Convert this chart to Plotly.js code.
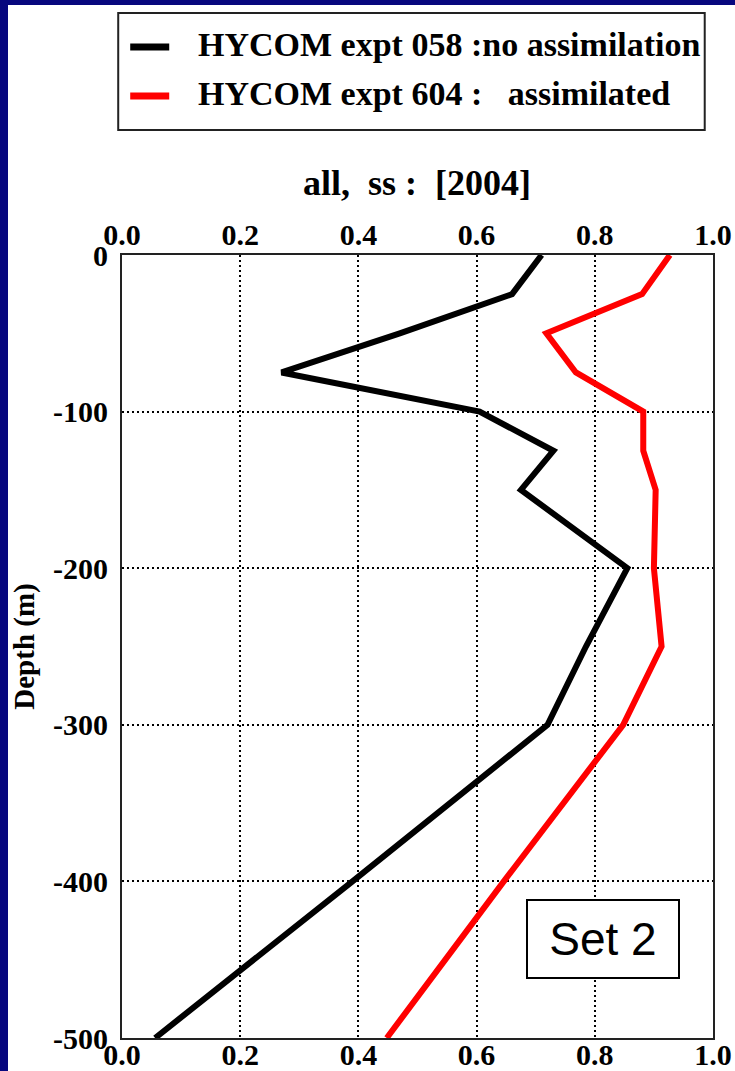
<!DOCTYPE html>
<html>
<head>
<meta charset="utf-8">
<script src="https://cdn.plot.ly/plotly-3.0.1.min.js"></script>
<style>
  html, body { margin: 0; padding: 0; background: #07077e; width: 735px; height: 1071px; overflow: hidden; }
  #chart { position: absolute; left: 8px; top: 5px; width: 727px; height: 1066px; background: #ffffff; }
</style>
</head>
<body>
<div id="chart"></div>
<script>
// ---- data ----
const depth = [0, -25, -50, -75, -100, -125, -150, -200, -250, -300, -400, -500];
const expt058 = [0.71, 0.66, 0.47, 0.27, 0.605, 0.73, 0.675, 0.855, 0.785, 0.72, 0.39, 0.056];
const expt604 = [0.927, 0.88, 0.718, 0.768, 0.882, 0.882, 0.903, 0.90, 0.913, 0.848, 0.646, 0.448];
const seriesNames = ["HYCOM expt 058 :no assimilation", "HYCOM expt 604 :\u00A0\u00A0 assimilated"];
const seriesColors = ["#000000", "#ff0000"];
const xTickVals = [0, 0.2, 0.4, 0.6, 0.8, 1.0];
const yTickVals = [0, -100, -200, -300, -400, -500];
const yTickText = ["0", "-100", "-200", "-300", "-400", "-500"];
const titleText = "all,\u00A0 ss :\u00A0 [2004]";
const yTitle = "Depth (m)";
const boxLabel = "Set 2";

const serif = "Liberation Serif, Times New Roman, serif";
const tickFont = { family: serif, size: 30, color: "#000", weight: "bold" };

const traces = [
  { x: expt058, y: depth, name: seriesNames[0], mode: "lines", line: { color: seriesColors[0], width: 6 }, xaxis: "x", yaxis: "y" },
  { x: expt604, y: depth, name: seriesNames[1], mode: "lines", line: { color: seriesColors[1], width: 6 }, xaxis: "x", yaxis: "y" },
  // invisible trace that binds the top x-axis
  { x: [xTickVals[0], xTickVals[xTickVals.length - 1]], y: [0, 0], mode: "markers", marker: { opacity: 0 }, xaxis: "x2", yaxis: "y", hoverinfo: "skip", showlegend: false }
];

// legend drawn as shapes + text (paper coords)
const legendY = [1.2657, 1.2031];
const shapes = [
  { type: "rect", xref: "paper", yref: "paper", x0: -0.0064, x1: 0.986, y0: 1.1596, y1: 1.309, line: { color: "#222", width: 2 }, fillcolor: "rgba(0,0,0,0)" },
  { type: "line", xref: "paper", yref: "paper", x0: 0.0139, x1: 0.0799, y0: legendY[0], y1: legendY[0], line: { color: seriesColors[0], width: 7 } },
  { type: "line", xref: "paper", yref: "paper", x0: 0.0139, x1: 0.0799, y0: legendY[1], y1: legendY[1], line: { color: seriesColors[1], width: 7 } }
];

const annotations = [
  { xref: "paper", yref: "paper", x: 0.1258, y: 1.2682, xanchor: "left", yanchor: "middle", showarrow: false, text: seriesNames[0], font: { family: serif, size: 34, color: "#000", weight: "bold" } },
  { xref: "paper", yref: "paper", x: 0.1258, y: 1.2063, xanchor: "left", yanchor: "middle", showarrow: false, text: seriesNames[1], font: { family: serif, size: 34, color: "#000", weight: "bold" } },
  { xref: "paper", yref: "paper", x: 0.8147, y: 0.126, xanchor: "center", yanchor: "middle", showarrow: false, text: boxLabel,
    font: { family: "Liberation Sans, Arial, sans-serif", size: 46, color: "#000" },
    bgcolor: "#ffffff", bordercolor: "#000", borderwidth: 2, borderpad: 1, width: 148, height: 74 }
];

const gridCommon = { showgrid: true, gridcolor: "#000", gridwidth: 2, griddash: "2px,3px", zeroline: false };

const layout = {
  width: 727, height: 1066,
  margin: { l: 113.8, r: 21.7, t: 250, b: 33 },
  paper_bgcolor: "#ffffff", plot_bgcolor: "#ffffff",
  showlegend: false,
  title: { text: titleText, font: { family: serif, size: 36, color: "#000", weight: "bold" }, x: 0.499, xref: "paper", xanchor: "center", y: 0.8335, yref: "container", yanchor: "middle" },
  xaxis: Object.assign({}, gridCommon, {
    range: [0, 1], tickvals: xTickVals, tickformat: ".1f", tickfont: tickFont,
    showline: true, linecolor: "#222", linewidth: 2, mirror: true, ticks: "", ticklen: 0, ticklabelstandoff: -11
  }),
  xaxis2: {
    overlaying: "x", side: "top", range: [0, 1], tickvals: xTickVals, tickformat: ".1f", tickfont: tickFont,
    showgrid: false, zeroline: false, showline: false, ticks: "", ticklabelstandoff: 3
  },
  yaxis: Object.assign({}, gridCommon, {
    range: [-500, 0], tickvals: yTickVals, ticktext: yTickText, tickfont: tickFont,
    showline: true, linecolor: "#222", linewidth: 2, mirror: true, ticks: "", ticklabelstandoff: 6,
    title: { text: yTitle, font: { family: serif, size: 29, color: "#000", weight: "bold" }, standoff: 24 }
  }),
  shapes: shapes,
  annotations: annotations
};

Plotly.newPlot("chart", traces, layout, { staticPlot: true, displayModeBar: false });
</script>
</body>
</html>
